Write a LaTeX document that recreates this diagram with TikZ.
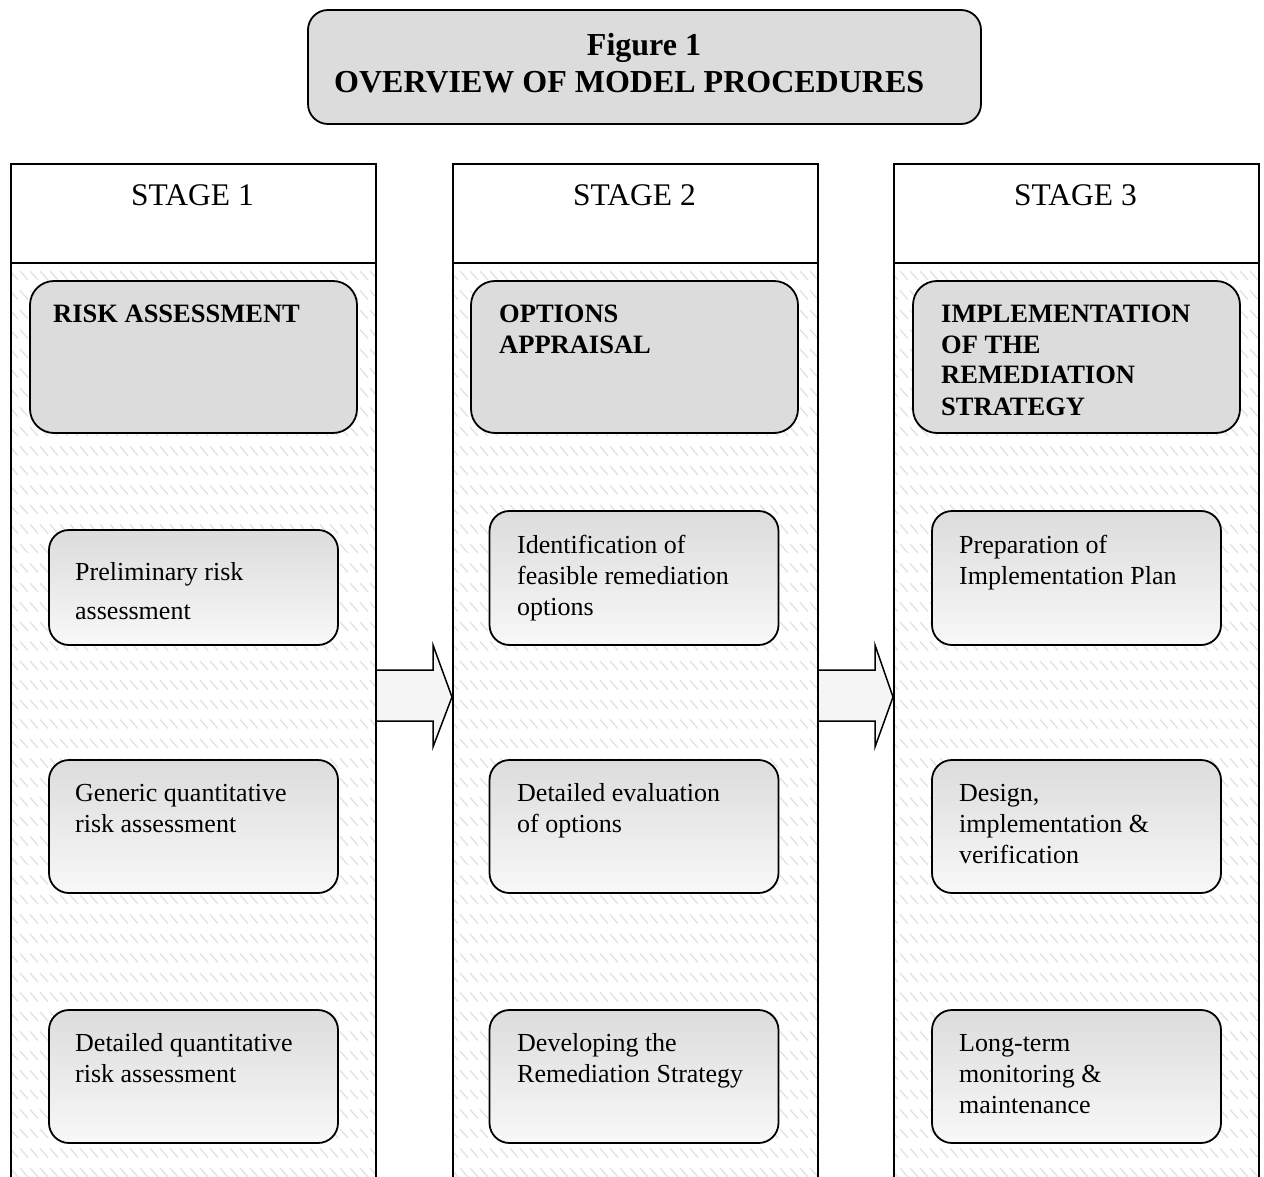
\documentclass[tikz,border=0pt]{standalone}
\usepackage{fontspec}
\setmainfont{Liberation Serif}
\usetikzlibrary{patterns}
\pgfdeclarepatternformonly{bandhatch}{\pgfqpoint{-1pt}{-1pt}}{\pgfqpoint{11pt}{20.5pt}}{\pgfqpoint{10pt}{19.5pt}}{%
  \pgfsetlinewidth{1.2pt}%
  \pgfpathmoveto{\pgfqpoint{0pt}{9pt}}%
  \pgfpathlineto{\pgfqpoint{8pt}{0pt}}%
  \pgfusepath{stroke}}
\definecolor{boxgray}{HTML}{DCDCDC}
\definecolor{lightend}{HTML}{F8F8F8}
\definecolor{arrowfill}{HTML}{F5F5F5}
\newcommand\txtlines[4]{\parbox[t]{320pt}{#1\fontsize{#2}{#3}\selectfont #4}}
\begin{document}
\begin{tikzpicture}[x=1pt,y=-1pt,
  titlebox/.style={draw, line width=1.8pt, fill=boxgray, rounded corners=20pt,
    minimum width=673pt, minimum height=114pt, inner sep=0pt},
  stagehead/.style={draw, line width=2pt, fill=white, minimum width=365pt, minimum height=99pt, inner sep=0pt},
  colbody/.style={draw, line width=2pt, pattern=bandhatch, pattern color=black!12,
    minimum width=365pt, minimum height=940pt, inner sep=0pt},
  hdrbox/.style={draw, line width=1.8pt, fill=boxgray, rounded corners=24pt,
    minimum width=327pt, minimum height=152pt, inner sep=0pt},
  subbox/.style={draw, line width=1.8pt, rounded corners=20pt, top color=boxgray, bottom color=lightend,
    minimum width=289pt, inner sep=0pt},
  txt/.style={anchor=base west, inner sep=0pt},
  blockarrow/.style={draw, line width=1.5pt, fill=arrowfill, line join=miter}
]
\useasboundingbox (0,0) rectangle (1264,1177);
\fill[white] (0,0) rectangle (1264,1177);

% title
\node[titlebox] (title) at (644.5,67) {};
\node[anchor=base, inner sep=0pt, font=\fontsize{32}{38}\selectfont\bfseries] (fig) at (644,55.5) {Figure 1};
\node[txt, font=\fontsize{32}{38}\selectfont\bfseries] (ovw) at (334,92.5) {OVERVIEW OF MODEL PROCEDURES};

% columns
\node[stagehead] (s1) at (193.5,213.5) {};
\node[stagehead] (s2) at (635.5,213.5) {};
\node[stagehead] (s3) at (1076.5,213.5) {};
\node[colbody] (col1) at (193.5,733) {};
\node[colbody] (col2) at (635.5,733) {};
\node[colbody] (col3) at (1076.5,733) {};
\node[anchor=base, inner sep=0pt, font=\fontsize{31.5}{36}\selectfont] (st1) at (192.5,206) {STAGE 1};
\node[anchor=base, inner sep=0pt, font=\fontsize{31.5}{36}\selectfont] (st2) at (634.5,206) {STAGE 2};
\node[anchor=base, inner sep=0pt, font=\fontsize{31.5}{36}\selectfont] (st3) at (1075.5,206) {STAGE 3};

% header boxes
\node[hdrbox] (h1) at (193.5,357) {};
\node[hdrbox] (h2) at (634.5,357) {};
\node[hdrbox] (h3) at (1076.5,357) {};
\node[txt] (h1t) at (53,322) {\txtlines{\bfseries}{26.5}{31}{RISK ASSESSMENT}};
\node[txt] (h2t) at (499,322) {\txtlines{\bfseries}{26.5}{31}{OPTIONS\\APPRAISAL}};
\node[txt] (h3t) at (941,322) {\txtlines{\bfseries}{26.5}{31}{IMPLEMENTATION\\OF THE\\REMEDIATION\\STRATEGY}};

% sub boxes, column 1
\node[subbox, minimum height=115pt] (a1) at (193.5,587.5) {};
\node[subbox, minimum height=133pt] (a2) at (193.5,826.5) {};
\node[subbox, minimum height=133pt] (a3) at (193.5,1076.5) {};
% column 2
\node[subbox, minimum height=134pt] (b1) at (634,578) {};
\node[subbox, minimum height=133pt] (b2) at (634,826.5) {};
\node[subbox, minimum height=133pt] (b3) at (634,1076.5) {};
% column 3
\node[subbox, minimum height=134pt] (c1) at (1076.5,578) {};
\node[subbox, minimum height=133pt] (c2) at (1076.5,826.5) {};
\node[subbox, minimum height=133pt] (c3) at (1076.5,1076.5) {};

\node[txt] (a1t) at (75,580) {\txtlines{}{26}{39}{Preliminary risk\\assessment}};
\node[txt] (a2t) at (75,801) {\txtlines{}{26}{31}{Generic quantitative\\risk assessment}};
\node[txt] (a3t) at (75,1051) {\txtlines{}{26}{31}{Detailed quantitative\\risk assessment}};
\node[txt] (b1t) at (517,553) {\txtlines{}{26}{31}{Identification of\\feasible remediation\\options}};
\node[txt] (b2t) at (517,801) {\txtlines{}{26}{31}{Detailed evaluation\\of options}};
\node[txt] (b3t) at (517,1051) {\txtlines{}{26}{31}{Developing the\\Remediation Strategy}};
\node[txt] (c1t) at (959,553) {\txtlines{}{26}{31}{Preparation of\\Implementation Plan}};
\node[txt] (c2t) at (959,801) {\txtlines{}{26}{31}{Design,\\implementation \&\\verification}};
\node[txt] (c3t) at (959,1051) {\txtlines{}{26}{31}{Long-term\\monitoring \&\\maintenance}};

% block arrows
\draw[blockarrow] (col1.east |- 0,670) -- (433,670) -- (433,645) -- (col2.west |- 0,697)
  -- (433,747) -- (433,721) -- (col1.east |- 0,721);
\draw[blockarrow] (col2.east |- 0,670) -- (875,670) -- (875,645) -- (col3.west |- 0,697)
  -- (875,747) -- (875,721) -- (col2.east |- 0,721);
\end{tikzpicture}
\end{document}
